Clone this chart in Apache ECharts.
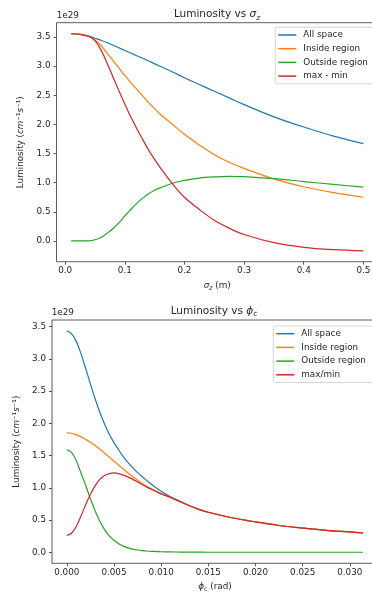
<!DOCTYPE html>
<html>
<head>
<meta charset="utf-8">
<script src="https://cdn.jsdelivr.net/npm/echarts@6/dist/echarts.min.js"></script>
<style>html,body{margin:0;padding:0;background:#fff;}#c{width:372px;height:595px;}</style>
</head>
<body>
<div id="c"></div>
<script>
// ---- Top chart: Luminosity vs sigma_z (values in units of 1e29) ----
const sigmaZ = [0.01,0.025,0.04,0.05,0.06,0.07,0.08,0.09,0.10,0.11,0.12,0.13,0.14,0.15,0.16,0.18,0.20,0.225,0.25,0.275,0.30,0.35,0.40,0.45,0.50];
const topAll     = [3.556,3.547,3.515,3.48,3.445,3.405,3.36,3.315,3.27,3.225,3.18,3.135,3.09,3.04,2.995,2.90,2.80,2.685,2.57,2.455,2.34,2.13,1.955,1.80,1.67];
const topInside  = [3.556,3.547,3.51,3.45,3.355,3.23,3.10,2.97,2.84,2.72,2.605,2.49,2.375,2.27,2.17,2.00,1.83,1.645,1.48,1.35,1.245,1.065,0.93,0.83,0.75];
const topOutside = [0,0,0.003,0.02,0.06,0.13,0.21,0.31,0.43,0.54,0.645,0.735,0.81,0.87,0.915,0.99,1.04,1.08,1.10,1.11,1.105,1.07,1.02,0.97,0.925];
const topMaxMin  = [3.556,3.547,3.51,3.44,3.28,3.06,2.82,2.58,2.35,2.13,1.93,1.74,1.56,1.40,1.25,0.98,0.75,0.54,0.355,0.22,0.11,-0.03,-0.11,-0.15,-0.17];
const topXTicks = [0,0.1,0.2,0.3,0.4,0.5];
const topYTicks = [0,0.5,1.0,1.5,2.0,2.5,3.0,3.5];
const topNames = ['All space','Inside region','Outside region','max - min'];

// ---- Bottom chart: Luminosity vs phi_c (values in units of 1e29) ----
const phiC = [0,0.0005,0.001,0.0015,0.002,0.0025,0.003,0.0035,0.004,0.0045,0.005,0.0055,0.006,0.0065,0.007,0.0075,0.008,0.0085,0.009,0.0095,0.010,0.011,0.012,0.013,0.014,0.015,0.0175,0.02,0.0225,0.025,0.0275,0.03,0.0314];
const botAll     = [3.43,3.39,3.27,3.08,2.85,2.61,2.38,2.17,1.99,1.83,1.70,1.585,1.48,1.39,1.31,1.235,1.17,1.11,1.05,0.995,0.945,0.86,0.79,0.72,0.665,0.62,0.535,0.47,0.415,0.375,0.34,0.315,0.30];
const botInside  = [1.85,1.845,1.82,1.79,1.75,1.705,1.655,1.60,1.54,1.475,1.41,1.35,1.29,1.23,1.17,1.115,1.065,1.02,0.98,0.945,0.91,0.85,0.785,0.72,0.665,0.62,0.535,0.47,0.415,0.375,0.34,0.315,0.30];
const botOutside = [1.59,1.55,1.42,1.23,1.04,0.83,0.645,0.48,0.35,0.255,0.185,0.13,0.095,0.068,0.048,0.035,0.026,0.019,0.014,0.011,0.008,0.005,0.003,0.002,0.001,0,0,0,0,0,0,0,0];
const botMaxMin  = [0.26,0.295,0.40,0.56,0.735,0.90,1.03,1.13,1.19,1.22,1.23,1.22,1.195,1.165,1.13,1.09,1.05,1.01,0.975,0.94,0.905,0.85,0.785,0.72,0.665,0.62,0.535,0.47,0.415,0.375,0.34,0.315,0.30];
const botXTicks = [0,0.005,0.01,0.015,0.02,0.025,0.03];
const botYTicks = [0,0.5,1.0,1.5,2.0,2.5,3.0,3.5];
const botNames = ['All space','Inside region','Outside region','max/min'];

const colors = ['#1f77b4','#ff7f0e','#2ca02c','#d62728'];
const FONT = 'DejaVu Sans';
const TXT = '#262626';

function zip(xs, ys){ return xs.map((x,i)=>[x, ys[i]]); }

const base = {fontFamily: FONT, color: TXT, fontWeight: 'normal'};
const rich = {
  n: Object.assign({}, base, {fontSize: 8.8}),
  i: Object.assign({}, base, {fontSize: 8.8, fontStyle: 'italic'}),
  s: Object.assign({}, base, {fontSize: 6.3, fontStyle: 'italic', padding: [6,0,0,0]}),
  sn: Object.assign({}, base, {fontSize: 6.3, padding: [6,0,0,0]}),
  tn: Object.assign({}, base, {fontSize: 10.5}),
  ti: Object.assign({}, base, {fontSize: 10.5, fontStyle: 'italic'}),
  ts: Object.assign({}, base, {fontSize: 7.5, fontStyle: 'italic', padding: [7,0,0,0]}),
  tsn: Object.assign({}, base, {fontSize: 7.5, padding: [7,0,0,0]})
};

function xAxisCfg(gi, min, max, ticks, dec, name, gap) {
  return {
    type: 'value', gridIndex: gi, min: min, max: max,
    name: name, nameLocation: 'middle', nameGap: gap,
    nameTextStyle: {rich: rich},
    axisLine: {show: false, onZero: false},
    splitLine: {show: false},
    axisTick: {show: true, inside: false, length: 3, customValues: ticks, lineStyle: {color: '#333', width: 0.8}},
    axisLabel: {customValues: ticks, margin: 5, fontFamily: FONT, fontSize: 8.8, color: TXT,
      formatter: v => Number(v).toFixed(dec)}
  };
}
function yAxisCfg(gi, min, max, ticks) {
  return {
    type: 'value', gridIndex: gi, min: min, max: max,
    name: '{n|Luminosity (}{i|cm}{n|⁻¹}{i|s}{n|⁻¹)}',
    nameLocation: 'middle', nameRotate: 90, nameGap: 23,
    nameTextStyle: {rich: rich},
    axisLine: {show: false, onZero: false},
    splitLine: {show: false},
    axisTick: {show: true, inside: false, length: 3, customValues: ticks, lineStyle: {color: '#333', width: 0.8}},
    axisLabel: {customValues: ticks, margin: 6, fontFamily: FONT, fontSize: 8.8, color: TXT,
      formatter: v => Number(v).toFixed(1)}
  };
}
function series(names, xs, arrs, gi) {
  return arrs.map((a, k) => ({
    type: 'line', name: names[k], xAxisIndex: gi, yAxisIndex: gi,
    data: zip(xs, a), showSymbol: false, symbol: 'none', smooth: 0.35,
    lineStyle: {color: colors[k], width: 1.2}, itemStyle: {color: colors[k]},
    clip: true, animation: false
  }));
}

const chart = echarts.init(document.getElementById('c'), null, {renderer: 'canvas'});
const legendBase = {
  orient: 'vertical', icon: 'rect', itemWidth: 18, itemHeight: 1.5, itemGap: 2.7,
  padding: [2.2, 20, 2.2, 3],
  backgroundColor: 'rgba(255,255,255,0.8)', borderColor: '#cccccc', borderWidth: 0.8, borderRadius: 2,
  textStyle: {fontFamily: FONT, fontSize: 8.8, color: TXT, lineHeight: 11, padding: [0,0,0,2]},
  selectedMode: false
};
chart.setOption({
  animation: false,
  color: colors,
  title: [
    {text: '{tn|Luminosity vs }{ti|σ}{ts|z}', left: 217, top: 7, textAlign: 'center', padding: 0,
     textStyle: {rich: rich, fontWeight: 'normal'}},
    {text: '{tn|Luminosity vs }{ti|ϕ}{tsn|c}', left: 214, top: 303.5, textAlign: 'center', padding: 0,
     textStyle: {rich: rich, fontWeight: 'normal'}}
  ],
  legend: [
    Object.assign({}, legendBase, {data: topNames, left: 275.3, top: 27.3}),
    Object.assign({}, legendBase, {data: botNames, left: 273.3, top: 326})
  ],
  grid: [
    {left: 56.5, top: 22.7, width: 321.5, height: 239, outerBoundsMode: 'none', show: true, borderColor: '#333', borderWidth: 0.8, backgroundColor: 'transparent'},
    {left: 52, top: 320, width: 326, height: 243.3, outerBoundsMode: 'none', show: true, borderColor: '#333', borderWidth: 0.8, backgroundColor: 'transparent'}
  ],
  xAxis: [
    xAxisCfg(0, -0.0145, 0.5245, topXTicks, 1, '{i|σ}{s|z}{n| (m)}', 18),
    xAxisCfg(1, -0.00157, 0.03299, botXTicks, 3, '{i|ϕ}{sn|c}{n| (rad)}', 17)
  ],
  yAxis: [
    yAxisCfg(0, -0.356, 3.746, topYTicks),
    yAxisCfg(1, -0.1715, 3.6015, botYTicks)
  ],
  graphic: [
    {type: 'text', left: 56.7, top: 11.5, style: {text: '1e29', font: '8.8px "DejaVu Sans"', fill: TXT}},
    {type: 'text', left: 51.7, top: 308.5, style: {text: '1e29', font: '8.8px "DejaVu Sans"', fill: TXT}}
  ],
  series: series(topNames, sigmaZ, [topAll, topInside, topOutside, topMaxMin], 0)
    .concat(series(botNames, phiC, [botAll, botInside, botOutside, botMaxMin], 1))
});
</script>
</body>
</html>
